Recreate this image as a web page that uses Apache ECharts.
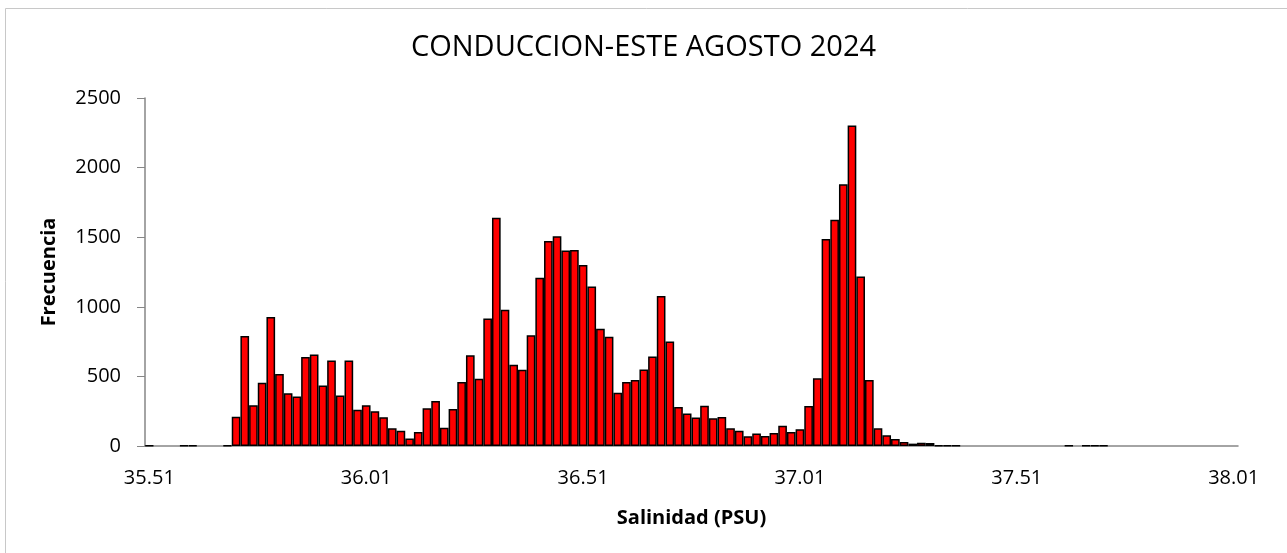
<!doctype html>
<html>
	<head>
		<meta charset="UTF-8">
		<title>CONDUCCION-ESTE AGOSTO 2024</title>
		<style type="text/css">
			html, body {
				margin: 0;
				padding: 0;
				background: #fff;
			}
			#histograma {
				width: 1287px;
				height: 553px;
			}
		</style>
	</head>
	<body>
		<div id="histograma"></div>
		<script src="https://cdn.jsdelivr.net/npm/echarts@6/dist/echarts.min.js"></script>
		<script type="text/javascript">
			// clases de salinidad (PSU), una por barra
			var salinidad = [
				'35.51', '35.53', '35.55', '35.57', '35.59', '35.61', '35.63', '35.65', '35.67', '35.69',
				'35.71', '35.73', '35.75', '35.77', '35.79', '35.81', '35.83', '35.85', '35.87', '35.89',
				'35.91', '35.93', '35.95', '35.97', '35.99', '36.01', '36.03', '36.05', '36.07', '36.09',
				'36.11', '36.13', '36.15', '36.17', '36.19', '36.21', '36.23', '36.25', '36.27', '36.29',
				'36.31', '36.33', '36.35', '36.37', '36.39', '36.41', '36.43', '36.45', '36.47', '36.49',
				'36.51', '36.53', '36.55', '36.57', '36.59', '36.61', '36.63', '36.65', '36.67', '36.69',
				'36.71', '36.73', '36.75', '36.77', '36.79', '36.81', '36.83', '36.85', '36.87', '36.89',
				'36.91', '36.93', '36.95', '36.97', '36.99', '37.01', '37.03', '37.05', '37.07', '37.09',
				'37.11', '37.13', '37.15', '37.17', '37.19', '37.21', '37.23', '37.25', '37.27', '37.29',
				'37.31', '37.33', '37.35', '37.37', '37.39', '37.41', '37.43', '37.45', '37.47', '37.49',
				'37.51', '37.53', '37.55', '37.57', '37.59', '37.61', '37.63', '37.65', '37.67', '37.69',
				'37.71', '37.73', '37.75', '37.77', '37.79', '37.81', '37.83', '37.85', '37.87', '37.89',
				'37.91', '37.93', '37.95', '37.97', '37.99', '38.01'
			];
			// frecuencia de cada clase
			var frecuencia = [
				3, 0, 0, 0, 3, 4, 0, 0, 0, 3,
				211, 791, 293, 455, 926, 518, 379, 355, 640, 657,
				434, 614, 362, 614, 261, 293, 250, 207, 127, 110,
				53, 101, 271, 324, 132, 266, 460, 652, 484, 916,
				1640, 978, 583, 547, 796, 1209, 1472, 1506, 1405, 1408,
				1300, 1146, 842, 785, 382, 460, 475, 549, 643, 1077,
				750, 281, 233, 204, 290, 199, 209, 127, 110, 70,
				89, 72, 94, 146, 101, 121, 287, 486, 1487, 1626,
				1880, 2302, 1218, 475, 127, 77, 50, 29, 17, 24,
				22, 4, 3, 3, 0, 0, 0, 0, 0, 0,
				0, 0, 0, 0, 0, 0, 2, 0, 2, 5,
				2, 0, 0, 0, 0, 0, 0, 0, 0, 0,
				0, 0, 0, 0, 0, 0
			];
			// etiquetas del eje de frecuencia
			var ticksFrecuencia = [0, 500, 1000, 1500, 2000, 2500];

			// las clases vacias no se dibujan (sin borde sobre el eje)
			var datosBarras = frecuencia.map(function (f) { return f > 0 ? f : '-'; });

			var fuente = '"Open Sans", "Noto Sans", sans-serif';
			var chart = echarts.init(document.getElementById('histograma'));
			var option = {
				animation: false,
				backgroundColor: '#fff',
				title: {
					text: 'CONDUCCION-ESTE AGOSTO 2024',
					left: 'center',
					top: 28,
					textStyle: {
						fontFamily: fuente,
						fontSize: 29,
						fontWeight: 'normal',
						color: '#000'
					}
				},
				graphic: [{
					type: 'rect',
					shape: { x: 5.5, y: 8.5, width: 1300, height: 600 },
					style: { fill: 'none', stroke: '#c8c8c8', lineWidth: 1 },
					silent: true
				}],
				grid: {
					left: 145,
					right: 49,
					top: 98,
					bottom: 107
				},
				xAxis: {
					type: 'category',
					data: salinidad,
					boundaryGap: true,
					name: 'Salinidad (PSU)',
					nameLocation: 'middle',
					nameGap: 62,
					nameTextStyle: {
						fontFamily: fuente,
						fontSize: 20,
						fontWeight: 'bold',
						color: '#000'
					},
					axisLine: { lineStyle: { color: '#868686', width: 1.5 } },
					axisTick: { show: false },
					axisLabel: {
						interval: function (i) { return i % 25 === 0; },
						margin: 22,
						fontFamily: fuente,
						fontSize: 20,
						color: '#000'
					},
					splitLine: { show: false }
				},
				yAxis: {
					type: 'value',
					min: ticksFrecuencia[0],
					max: ticksFrecuencia[ticksFrecuencia.length - 1],
					interval: 500,
					name: 'Frecuencia',
					nameLocation: 'middle',
					nameGap: 86,
					nameTextStyle: {
						fontFamily: fuente,
						fontSize: 20,
						fontWeight: 'bold',
						color: '#000'
					},
					axisLine: { show: true, lineStyle: { color: '#868686', width: 1.5 } },
					axisTick: { show: true, inside: false, length: 8, lineStyle: { color: '#868686' } },
					axisLabel: {
						margin: 24,
						formatter: function (v) { return String(v); },
						fontFamily: fuente,
						fontSize: 20,
						color: '#000'
					},
					splitLine: { show: false }
				},
				series: [{
					type: 'bar',
					data: datosBarras,
					barWidth: '100%',
					itemStyle: {
						color: '#ff0000',
						borderColor: '#000',
						borderWidth: 1.5
					}
				}]
			};
			chart.setOption(option);
		</script>
	</body>
</html>
